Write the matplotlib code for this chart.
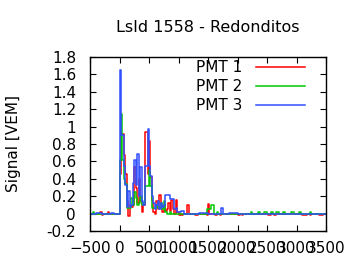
import matplotlib
matplotlib.use('Agg')
from matplotlib import pyplot as plt

# 각 PMT 신호: 구간 시작 시간 [ns] 과 그 구간의 값 [VEM] (step, 3500 에서 끝)
t_pmt1 = [-500, -325, -300, -275, -200, -175, 0, 25, 50, 75, 100, 125, 150, 175, 200,
          225, 250, 275, 300, 325, 350, 375, 400, 425, 450, 475, 500, 525, 550, 575,
          600, 625, 650, 675, 700, 725, 750, 775, 800, 825, 850, 875, 900, 925, 950,
          975, 1000, 1025, 1050, 1075, 1150, 1175, 1275, 1325, 1475, 1500, 1525, 1625,
          1650, 1700, 1725, 2000, 2050, 2075, 2100, 2525, 2575, 2625, 2650, 3100, 3175,
          3225, 3250, 3375, 3450]
v_pmt1 = [0.0, 0.015, -0.015, 0.0, 0.015, 0.0, 0.45, 0.92, 0.92, 0.67, 0.45, 0.15, -0.03, 0.10, 0.08,
          0.10, 0.54, 0.30, 0.12, 0.40, 0.15, 0.02, 0.10, 0.94, 0.94, 0.45, 0.83, 0.42, 0.16, 0.02,
          0.0, 0.15, 0.05, 0.21, 0.08, 0.02, 0.10, 0.03, 0.05, 0.12, 0.03, 0.16, 0.05, 0.0, 0.16,
          0.02, -0.02, 0.0, -0.02, 0.0, 0.10, 0.0, -0.02, 0.0, -0.02, 0.11, 0.0, -0.02,
          0.0, -0.02, 0.0, -0.02, 0.0, -0.02, 0.0, -0.02, 0.0, -0.02, 0.0, -0.02, 0.0,
          -0.02, 0.0, -0.02, 0.0]

t_pmt2 = [-500, -450, -425, 0, 25, 50, 75, 100, 125, 150, 175, 200, 225, 250, 275,
          300, 325, 350, 375, 400, 425, 450, 475, 500, 525, 550, 575, 600, 625, 650,
          675, 700, 725, 750, 775, 800, 850, 875, 1475, 1550, 1600, 1650, 1675, 2225,
          2250, 2350, 2375, 2450, 2500, 2575, 2600, 2650, 2700, 2775, 2800, 2900, 2950,
          3050, 3075, 3225, 3250]
v_pmt2 = [0.0, 0.015, 0.0, 0.62, 1.14, 0.62, 0.40, 0.34, 0.06, 0.06, 0.06, 0.18, 0.10, 0.25, 0.18,
          0.10, 0.12, 0.20, 0.10, 0.12, 0.32, 0.32, 0.32, 0.50, 0.32, 0.07, 0.07, 0.07, 0.10, 0.07,
          0.07, 0.12, 0.05, 0.15, 0.02, 0.0, 0.02, 0.0, 0.05, 0.10, 0.0, 0.015, 0.0, 0.015,
          0.0, 0.015, 0.0, 0.015, 0.0, 0.015, 0.0, 0.015, 0.0, 0.015, 0.0, 0.015, 0.0,
          0.015, 0.0, 0.015, 0.0]

t_pmt3 = [-500, -400, -300, -150, -100, 0, 25, 50, 75, 100, 125, 150, 175, 200, 225,
          250, 275, 300, 325, 350, 375, 400, 425, 450, 475, 500, 525, 550, 575, 600,
          625, 650, 675, 700, 725, 750, 775, 800, 825, 850, 875, 900, 925, 950, 975,
          1050, 1100, 1350, 1500, 1725, 1750, 1850, 2000]
v_pmt3 = [0.0, 0.01, 0.0, 0.01, 0.0, 1.65, 0.90, 0.90, 0.55, 0.33, 0.08, 0.26, 0.08, 0.10, 0.35,
          0.62, 0.33, 0.68, 0.20, 0.53, 0.15, 0.10, 0.55, 0.55, 0.97, 0.55, 0.43, 0.20, 0.12, 0.05,
          0.10, 0.15, 0.05, 0.12, 0.08, 0.10, 0.21, 0.21, 0.21, 0.17, 0.17, 0.17, 0.05, 0.07, 0.02,
          0.03, 0.0, 0.01, 0.0, 0.07, 0.0, 0.01, 0.0]

t_end = 3500
fs = 11

fig = plt.figure(figsize=(3.6, 2.7), dpi=100)
ax = fig.add_axes([0.25, 0.1444, 0.6556, 0.6445])

for t, v, c, lab in [(t_pmt1, v_pmt1, '#ff0000', 'PMT 1'),
                     (t_pmt2, v_pmt2, '#00c800', 'PMT 2'),
                     (t_pmt3, v_pmt3, '#3050ff', 'PMT 3')]:
    ax.step(t + [t_end], v + [v[-1]], where='post', color=c, lw=1.1, label=lab)

ax.set_xlim(-500, 3500)
ax.set_ylim(-0.2, 1.8)
ax.set_xticks(range(-500, 3501, 500))
ax.set_yticks([-0.2, 0, 0.2, 0.4, 0.6, 0.8, 1, 1.2, 1.4, 1.6, 1.8])
ax.set_yticklabels(['-0.2', '0', '0.2', '0.4', '0.6', '0.8', '1', '1.2', '1.4', '1.6', '1.8'])
ax.tick_params(direction='in', length=4, top=True, right=True, labelsize=fs, width=0.8)
ax.tick_params(axis='x', pad=7)
ax.tick_params(axis='y', pad=10)
for s in ax.spines.values():
    s.set_linewidth(1.0)

leg = ax.legend(loc='upper right', bbox_to_anchor=(0.97, 1.06), frameon=False,
                markerfirst=False, fontsize=fs, handlelength=3.2, handletextpad=0.9,
                labelspacing=0.25)

fig.text(0.578, 0.9, 'LsId 1558 - Redonditos', ha='center', va='center', fontsize=11.5)
fig.text(0.038, 0.467, 'Signal [VEM]', ha='center', va='center', rotation=90, fontsize=fs)

plt.savefig('out.png', dpi=100)
plt.close()
